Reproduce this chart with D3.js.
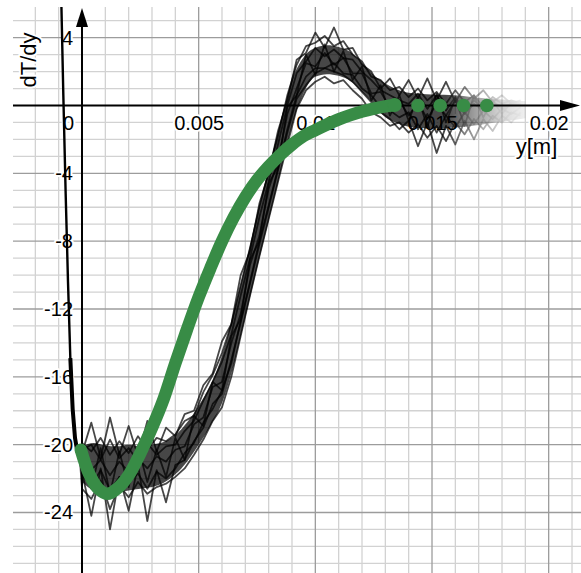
<!DOCTYPE html>
<html><head><meta charset="utf-8">
<script src="https://cdn.jsdelivr.net/npm/d3@7"></script>
<style>
html,body{margin:0;padding:0;background:#fff;}
svg{display:block;}
text{font-family:"Liberation Sans",Arial,sans-serif;}
</style></head><body>
<svg id="c" width="581" height="573"></svg>
<script>
// ---- labels / ticks ----
const xTicks = [0.005, 0.01, 0.015, 0.02];
const xTickLabels = ["0.005", "0.01", "0.015", "0.02"];
const yTicks = [4, -4, -8, -12, -16, -20, -24];
const xLabel = "y[m]";
const yLabel = "dT/dy";

// ---- measured data: steep lead-in before y = 0 ----
const leadX = [-0.0009, -0.0008, -0.0007, -0.0006, -0.0005, -0.0004, -0.0003, -0.0002, -0.0001];
const leadY = [7.0, 0.6, -5.2, -10.4, -14.9, -17.9, -19.6, -20.4, -20.7];

// ---- measured data: dense core of the repeated runs ----
const bandX = [0, 0.0005, 0.001, 0.0015, 0.002, 0.0025, 0.003, 0.0035, 0.004, 0.0045,
  0.005, 0.0055, 0.006, 0.0065, 0.007, 0.0075, 0.008, 0.0085, 0.009, 0.0095,
  0.01, 0.0105, 0.011, 0.0115, 0.012, 0.0125, 0.013, 0.0135, 0.014, 0.015,
  0.016, 0.017, 0.018, 0.019];
const bandUpper = [-20.1, -19.9, -20.05, -20.1, -20.0, -20.1, -20.0, -19.85, -19.45, -18.7,
  -17.7, -16.5, -14.75, -12.2, -9.4, -6.5, -3.7, -1.0, 1.5, 2.85,
  3.4, 3.55, 3.45, 3.15, 2.5, 1.8, 1.3, 0.95, 0.75, 0.65,
  0.6, 0.45, 0.35, 0.25];
const bandLower = [-22.2, -22.7, -22.85, -22.8, -22.7, -22.6, -22.5, -22.25, -21.75, -21.0,
  -20.0, -18.9, -17.55, -15.3, -12.5, -9.6, -6.8, -4.0, -1.2, 0.75,
  1.7, 1.85, 1.75, 1.45, 0.8, 0.1, -0.7, -1.05, -1.25, -1.35,
  -1.3, -1.15, -0.95, -0.75];

// ---- measured data: individual runs ----
const sampleX = [0, 0.0004, 0.0008, 0.0012, 0.0016, 0.002, 0.0024, 0.0028, 0.0032, 0.0036,
  0.004, 0.0044, 0.0048, 0.0052, 0.0056, 0.006, 0.0064, 0.0068, 0.0072, 0.0076,
  0.008, 0.0084, 0.0088, 0.0092, 0.0096, 0.01, 0.0104, 0.0108, 0.0112, 0.0116,
  0.012, 0.0124, 0.0128, 0.0132, 0.0136, 0.014, 0.0144, 0.0148, 0.0152, 0.0156,
  0.016, 0.0164, 0.0168, 0.0172, 0.0176, 0.018, 0.0184, 0.0188];
const runA = [-19.9,-20.4,-19.6,-20.6,-19.8,-20.5,-19.5,-20.3,-19.6,-19.8,
  -19.4,-18.6,-18.3,-16.9,-15.9,-14.6,-12.9,-10.6,-8.4,-6.0,-3.9,-1.8,0.6,
  2.4,3.5,3.7,4.1,3.5,3.8,3.0,2.6,1.7,1.5,0.9,1.1,0.5,
  1.0,0.3,0.8,0.1,0.9,0.2,0.6,-0.1,0.5,0.1,0.3,0.1];
const runB = [-22.6,-23.2,-22.1,-23.8,-22.4,-23.1,-22.2,-22.9,-22.5,-22.3,
  -21.9,-21.4,-20.6,-19.7,-18.6,-17.8,-16.0,-13.6,-11.2,-8.9,-6.7,-4.5,-2.3,
  -0.2,0.9,1.4,1.7,1.3,1.5,0.9,0.4,-0.4,-0.7,-1.2,-1.0,-1.6,
  -1.1,-1.9,-1.2,-2.1,-1.0,-1.7,-0.8,-1.4,-0.6,-1.0,-0.4,-0.6];
const runC = [-20.0,-22.6,-20.2,-22.9,-20.4,-22.5,-20.1,-22.2,-20.3,-21.9,
  -19.6,-20.9,-18.3,-18.9,-16.3,-16.8,-13.6,-12.6,-9.1,-8.0,-4.6,-3.6,-0.1,
  0.6,3.0,1.8,3.6,2.0,3.2,1.5,2.3,0.3,1.2,-0.6,0.6,-0.9,
  0.5,-1.3,0.7,-1.0,0.4,-1.2,0.6,-0.7,0.3,-0.5,0.2,0.0];
const runD = [-21.6,-24.2,-21.4,-25.0,-21.9,-23.9,-21.2,-24.5,-21.5,-23.4,
  -21.2,-20.9,-19.8,-19.0,-17.6,-17.0,-15.0,-12.8,-10.5,-8.2,-6.0,-3.8,-1.6,
  0.4,1.2,1.9,2.2,2.0,1.8,1.4,0.8,0.2,-0.4,-0.8,-1.4,-0.9,
  -2.4,-1.0,-2.8,-1.2,-2.3,-0.9,-2.0,-0.8,-1.5,-0.6,-1.0,-0.4];
const runE = [-20.5,-18.7,-20.8,-18.4,-20.6,-18.9,-20.7,-18.6,-20.4,-19.0,
  -19.5,-18.2,-18.0,-16.5,-15.8,-13.9,-12.9,-10.0,-8.6,-5.8,-4.0,-1.5,0.3,
  2.7,3.1,4.3,3.4,4.6,3.3,3.4,2.4,2.0,1.0,1.6,0.6,1.5,
  0.4,1.6,0.3,1.4,0.2,1.1,0.4,0.9,0.2,0.6,0.1,0.3];
const runF = [-20.6,-21.5,-20.9,-21.8,-21.0,-21.6,-20.8,-21.4,-20.7,-21.0,
  -20.3,-20.1,-18.8,-18.4,-16.6,-16.3,-14.0,-12.3,-9.4,-7.7,-4.9,-3.3,-0.5,
  1.0,2.5,2.3,3.1,2.4,2.8,1.9,1.9,0.7,0.8,-0.1,0.3,-0.6,
  0.2,-0.8,0.1,-0.6,0.3,-0.5,0.1,-0.3,0.2,-0.2,0.0,0.0];
const runG = [-21.8,-22.4,-21.5,-22.7,-21.9,-22.2,-21.7,-22.6,-21.6,-22.0,
  -21.4,-20.5,-19.9,-18.7,-17.9,-16.8,-15.2,-12.7,-10.4,-8.0,-5.9,-3.7,-1.4,
  0.6,1.7,2.2,2.2,2.5,1.9,1.8,1.0,0.6,-0.1,-0.3,-0.7,-0.4,
  -1.4,-0.5,-1.6,-0.6,-1.3,-0.4,-1.1,-0.3,-0.8,-0.2,-0.5,-0.1];
const runH = [-20.3,-20.0,-20.9,-19.7,-20.8,-20.2,-21.0,-19.9,-20.6,-20.1,
  -20.0,-19.2,-18.6,-17.4,-16.3,-15.1,-13.5,-11.2,-9.0,-6.6,-4.5,-2.3,0.0,
  1.9,2.6,3.4,2.9,3.3,2.8,2.7,2.0,1.5,0.9,0.6,0.3,0.1,
  0.7,-0.2,0.6,-0.3,0.5,-0.4,0.3,-0.2,0.2,-0.1,0.1,0.0];
const runs = [runA, runB, runC, runD, runE, runF, runG, runH];

// ---- green model curve ----
const fitX = [-0.00005, 0.0003, 0.0007, 0.0011, 0.0015, 0.002, 0.0025, 0.003, 0.0035, 0.004,
  0.0045, 0.005, 0.0055, 0.006, 0.0065, 0.007, 0.0075, 0.008, 0.0085, 0.009,
  0.0095, 0.01, 0.0105, 0.011, 0.0115, 0.012, 0.0125, 0.013, 0.0134];
const fitY = [-20.3, -21.7, -22.6, -22.9, -22.6, -21.8, -20.5, -19.0, -17.3, -15.2,
  -13.2, -11.3, -9.6, -8.0, -6.6, -5.4, -4.4, -3.6, -2.9, -2.3,
  -1.8, -1.45, -1.12, -0.82, -0.57, -0.35, -0.18, -0.05, 0.03];
const fitDotsX = [0.0144, 0.01535, 0.01635, 0.01735];
const fitDotsY = [0, 0, 0, 0];

// ---- drawing ----
const W = 581, H = 573;
const svg = d3.select("#c");
const x = d3.scaleLinear().domain([0, 0.02]).range([82, 548.67]);
const y = d3.scaleLinear().domain([0, -24]).range([105.5, 512.5]);
const L = 13, T = 7;

const defs = svg.append("defs");
defs.append("clipPath").attr("id", "plot").append("rect")
  .attr("x", L).attr("y", T).attr("width", W - L).attr("height", H - T);
const grad = defs.append("linearGradient").attr("id", "fadeGrad")
  .attr("gradientUnits", "userSpaceOnUse")
  .attr("x1", x(0.0156)).attr("x2", x(0.0197)).attr("y1", 0).attr("y2", 0);
[[0, 1], [0.28, 0.55], [0.6, 0.2], [1, 0]].forEach(s =>
  grad.append("stop").attr("offset", s[0]).attr("stop-color", "#fff").attr("stop-opacity", s[1]));
defs.append("mask").attr("id", "fade").attr("maskUnits", "userSpaceOnUse")
  .attr("x", 0).attr("y", 0).attr("width", W).attr("height", H)
  .append("rect").attr("x", 0).attr("y", 0).attr("width", W).attr("height", H)
  .attr("fill", "url(#fadeGrad)");
defs.append("filter").attr("id", "soft").append("feGaussianBlur").attr("stdDeviation", 0.45);

const plot = svg.append("g").attr("clip-path", "url(#plot)");

// grid
const gx = d3.range(-3, 22), gy = d3.range(-27, 6);
plot.append("g").selectAll("line").data(gx.filter(i => i % 5 !== 0)).join("line")
  .attr("x1", i => x(i / 1000)).attr("x2", i => x(i / 1000))
  .attr("y1", T).attr("y2", H).attr("stroke", "#d2d2d2").attr("stroke-width", 1.3);
plot.append("g").selectAll("line").data(gy.filter(j => j % 4 !== 0)).join("line")
  .attr("y1", j => y(j)).attr("y2", j => y(j))
  .attr("x1", L).attr("x2", W).attr("stroke", "#d2d2d2").attr("stroke-width", 1.3);
plot.append("g").selectAll("line").data(gx.filter(i => i % 5 === 0 && i !== 0)).join("line")
  .attr("x1", i => x(i / 1000)).attr("x2", i => x(i / 1000))
  .attr("y1", T).attr("y2", H).attr("stroke", "#9c9c9c").attr("stroke-width", 1.3);
plot.append("g").selectAll("line").data(gy.filter(j => j % 4 === 0 && j !== 0)).join("line")
  .attr("y1", j => y(j)).attr("y2", j => y(j))
  .attr("x1", L).attr("x2", W).attr("stroke", "#9c9c9c").attr("stroke-width", 1.3);

// axes lines + arrows
plot.append("line").attr("x1", L).attr("x2", W - 18).attr("y1", y(0)).attr("y2", y(0))
  .attr("stroke", "#000").attr("stroke-width", 2);
plot.append("line").attr("x1", x(0)).attr("x2", x(0)).attr("y1", 22).attr("y2", H)
  .attr("stroke", "#000").attr("stroke-width", 2);
plot.append("path").attr("d", `M${580},${y(0)} L${560},${y(0) - 5.5} L${560},${y(0) + 5.5} Z`).attr("fill", "#000");
plot.append("path").attr("d", `M${x(0)},${8} L${x(0) - 6},${27} L${x(0) + 6},${27} Z`).attr("fill", "#000");

// tick labels via d3 axes
function halo(sel) {
  sel.attr("fill", "#000").attr("stroke", "#fff").attr("stroke-width", 4)
    .attr("stroke-linejoin", "round").attr("paint-order", "stroke")
    .style("font-size", "20px").style("font-family", '"Liberation Sans", Arial, sans-serif');
}
const xAxis = d3.axisBottom(x).tickValues(xTicks).tickFormat((d, i) => xTickLabels[i]).tickSize(0).tickPadding(10);
const gxa = svg.append("g").attr("transform", `translate(0,${y(0)})`).call(xAxis);
gxa.select(".domain").remove();
gxa.selectAll("text").call(halo);
const yAxis = d3.axisLeft(y).tickValues(yTicks).tickFormat(d => String(d)).tickSize(0).tickPadding(9);
const gya = svg.append("g").attr("transform", `translate(${x(0)},0)`).call(yAxis);
gya.select(".domain").remove();
gya.selectAll("text").call(halo);
svg.append("text").attr("x", 74).attr("y", y(0) + 24.5).attr("text-anchor", "end").text("0").call(halo);

// axis titles
svg.append("text").attr("transform", `translate(36,60) rotate(-90)`).attr("text-anchor", "middle")
  .text(yLabel).call(halo).style("font-size", "22px");
svg.append("text").attr("x", 536.5).attr("y", 154).attr("text-anchor", "middle")
  .text(xLabel).call(halo).style("font-size", "22px");

// black measured runs
const dataG = svg.append("g").attr("clip-path", "url(#plot)").append("g").attr("mask", "url(#fade)")
  .append("g").attr("filter", "url(#soft)");
const lineGen = d3.line().x(d => x(d[0])).y(d => y(d[1]));
const areaGen = d3.area().x((d, i) => x(bandX[i])).y0((d, i) => y(bandLower[i])).y1((d, i) => y(bandUpper[i]))
  .curve(d3.curveMonotoneX);
dataG.append("path").attr("d", areaGen(bandX)).attr("fill", "#000").attr("fill-opacity", 0.72);
const leadPts = leadX.map((v, i) => [v, leadY[i]]);
dataG.append("path").attr("d", lineGen(leadPts)).attr("fill", "none")
  .attr("stroke", "#000").attr("stroke-width", 2.4).attr("stroke-linejoin", "round");
dataG.append("path").attr("d", lineGen(leadPts.slice(4))).attr("fill", "none")
  .attr("stroke", "#000").attr("stroke-width", 4).attr("stroke-linejoin", "round");
runs.forEach(r => {
  const pts = [leadPts[leadPts.length - 1]].concat(sampleX.map((v, i) => [v, r[i]]));
  dataG.append("path").attr("d", lineGen(pts)).attr("fill", "none")
    .attr("stroke", "#000").attr("stroke-opacity", 0.72).attr("stroke-width", 1.8)
    .attr("stroke-linejoin", "round");
});

// green model
const green = "#388c46";
const fitLine = d3.line().curve(d3.curveCatmullRom).x(d => x(d[0])).y(d => y(d[1]));
const gG = svg.append("g").attr("clip-path", "url(#plot)");
gG.append("path").attr("d", fitLine(fitX.map((v, i) => [v, fitY[i]])))
  .attr("fill", "none").attr("stroke", green).attr("stroke-width", 12.5)
  .attr("stroke-linecap", "round").attr("stroke-linejoin", "round");
gG.append("circle").attr("cx", x(fitX[fitX.length - 1])).attr("cy", y(fitY[fitY.length - 1]))
  .attr("r", 7).attr("fill", green);
gG.append("g").selectAll("circle").data(fitDotsX).join("circle")
  .attr("cx", d => x(d)).attr("cy", (d, i) => y(fitDotsY[i])).attr("r", 6.8).attr("fill", green);
</script>
</body></html>
